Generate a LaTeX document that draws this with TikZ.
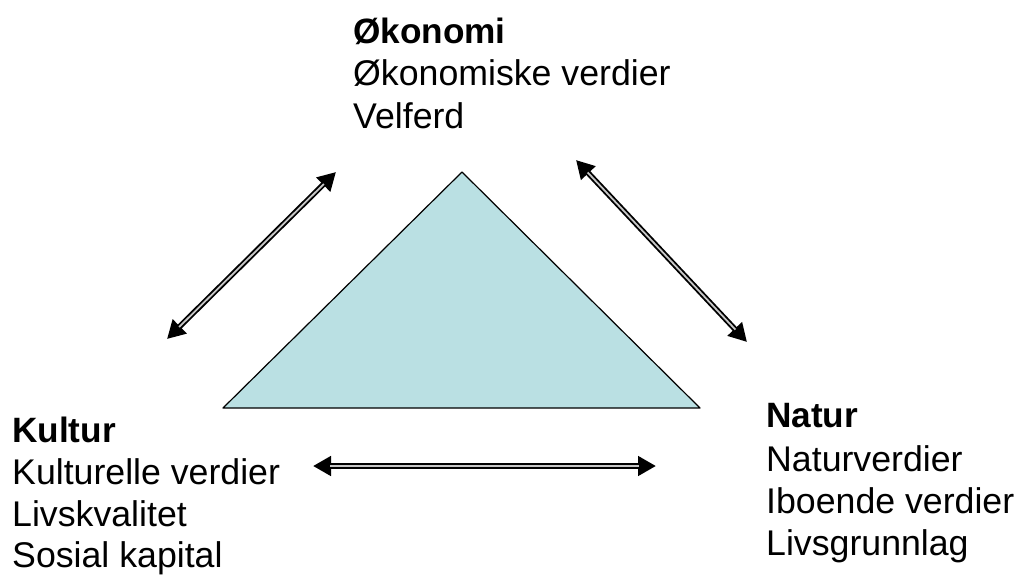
\documentclass[tikz,border=0pt]{standalone}
\usepackage{fontspec}
\setmainfont{Liberation Sans}
\usetikzlibrary{arrows.meta}
\definecolor{tri}{RGB}{186,224,227}
\tikzset{
  lbl/.style={anchor=base west, inner sep=0pt, font=\fontsize{35.7}{40}\selectfont},
  hdr/.style={lbl, font=\fontsize{35.2}{40}\selectfont\bfseries},
  dblarrow/.style={line width=5.5pt, {Triangle[length=18pt,width=19pt]}-{Triangle[length=18pt,width=19pt]}},
  inner/.style={line width=1.8pt, draw=black!22, shorten <=17pt, shorten >=17pt}
}
\begin{document}
\begin{tikzpicture}[x=1pt,y=-1pt]
\useasboundingbox (0,0) rectangle (1016,574);
% triangle
\coordinate (T) at (462,172);
\coordinate (L) at (223,408);
\coordinate (R) at (700,408);
\filldraw[fill=tri, draw=black, line width=1.2pt, line join=round] (T) -- (L) -- (R) -- cycle;
% arrows
\coordinate (a1) at (167,339);
\coordinate (a2) at (336,172);
\coordinate (b1) at (576,160);
\coordinate (b2) at (747,342);
\coordinate (c1) at (313,466);
\coordinate (c2) at (656,466);
\foreach \p/\q in {a1/a2,b1/b2,c1/c2}{
  \draw[dblarrow] (\p) -- (\q);
  \draw[inner] (\p) -- (\q);
}
% Økonomi
\node[hdr] (ok0) at (353,43) {Økonomi};
\node[lbl] (ok1) at (353,85.5) {Økonomiske verdier};
\node[lbl] (ok2) at (353,128) {Velferd};
% Kultur
\node[hdr] (ku0) at (12,442) {Kultur};
\node[lbl] (ku1) at (12,484) {Kulturelle verdier};
\node[lbl] (ku2) at (12,526) {Livskvalitet};
\node[lbl] (ku3) at (12,567) {Sosial kapital};
% Natur
\node[hdr] (na0) at (766,427) {Natur};
\node[lbl] (na1) at (766,471) {Naturverdier};
\node[lbl] (na2) at (766,513) {Iboende verdier};
\node[lbl] (na3) at (766,555) {Livsgrunnlag};
\end{tikzpicture}
\end{document}
